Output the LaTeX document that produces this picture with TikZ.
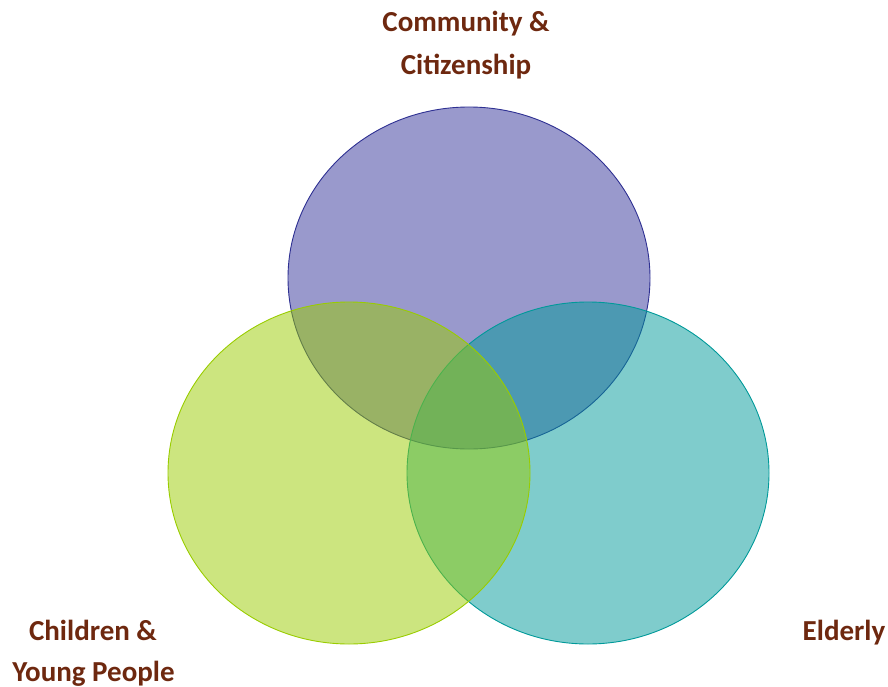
\documentclass[tikz,border=0pt]{standalone}
\usepackage{fontspec}
\setmainfont{Carlito}
\definecolor{lbl}{RGB}{110,40,15}
\definecolor{topf}{RGB}{51,51,153}
\definecolor{tops}{RGB}{46,48,146}
\definecolor{leftf}{RGB}{153,204,0}
\definecolor{rightf}{RGB}{0,153,153}
\tikzset{
  lab/.style={font=\bfseries\fontsize{29}{43}\selectfont, text=lbl, align=center, inner sep=0pt},
  venn/.style={line width=0.9pt, fill opacity=0.5}
}
\begin{document}
\begin{tikzpicture}[x=1pt,y=-1pt]
\useasboundingbox (0,0) rectangle (888,687);
\draw[venn, draw=tops, fill=topf] (469,278) ellipse [x radius=181, y radius=171];
\draw[venn, draw=rightf, fill=rightf] (588,473) ellipse [x radius=181, y radius=171];
\draw[venn, draw=leftf, fill=leftf] (349,473) ellipse [x radius=181, y radius=171];
\node[lab, anchor=base] (c1) at (466,32) {Community \&};
\node[lab, anchor=base] (c2) at (466,75) {Citizenship};
\node[lab, anchor=base] (y1) at (93,640) {Children \&};
\node[lab, anchor=base] (y2) at (93.5,681) {Young People};
\node[lab, anchor=base] (e1) at (844,640) {Elderly};
\end{tikzpicture}
\end{document}
